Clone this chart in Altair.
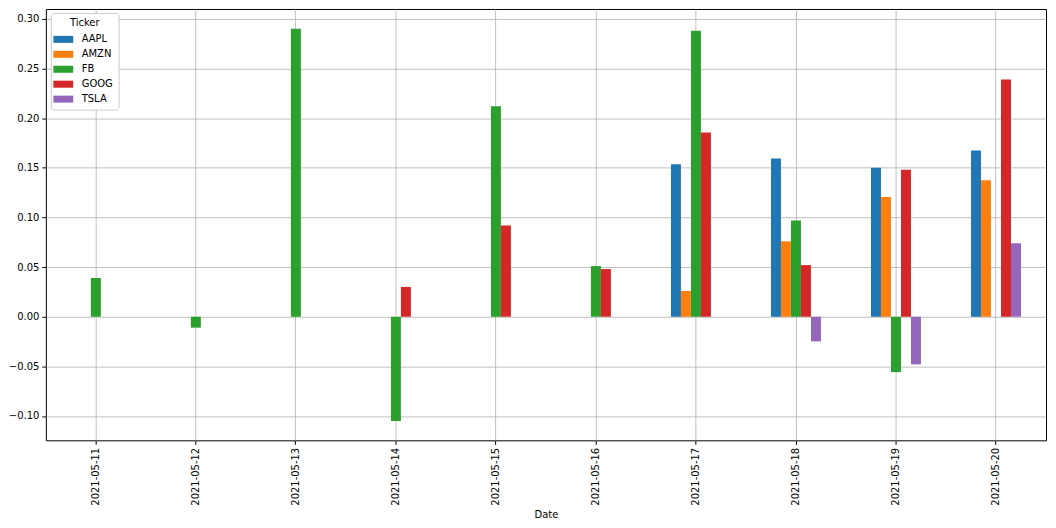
import altair as alt
import pandas as pd

dates = ["2021-05-11", "2021-05-12", "2021-05-13", "2021-05-14", "2021-05-15",
         "2021-05-16", "2021-05-17", "2021-05-18", "2021-05-19", "2021-05-20"]
tickers = ["AAPL", "AMZN", "FB", "GOOG", "TSLA"]
colors = ["#1f77b4", "#ff7f0e", "#2ca02c", "#d62728", "#9467bd"]

aapl = [None, None, None, None, None, None, 0.1535, 0.1595, 0.150, 0.1675]
amzn = [None, None, None, None, None, None, 0.026, 0.076, 0.1205, 0.1375]
fb = [0.039, -0.011, 0.290, -0.105, 0.212, 0.051, 0.288, 0.097, -0.0558, None]
goog = [None, None, None, 0.030, 0.092, 0.048, 0.1855, 0.052, 0.148, 0.239]
tsla = [None, None, None, None, None, None, None, -0.0248, -0.048, 0.074]

series = {"AAPL": aapl, "AMZN": amzn, "FB": fb, "GOOG": goog, "TSLA": tsla}
rows = []
for t in tickers:
    for d, v in zip(dates, series[t]):
        if v is not None:
            rows.append({"Date": d, "Ticker": t, "Value": v})
df = pd.DataFrame(rows)

font = "DejaVu Sans"

chart = alt.Chart(df).mark_bar(size=10).encode(
    x=alt.X("Date:N", sort=dates,
            scale=alt.Scale(domain=dates, paddingInner=0.5, paddingOuter=0.25),
            axis=alt.Axis(title="Date", labelAngle=270, grid=True, bandPosition=0.5,
                          gridColor="#b0b0b0", gridWidth=0.8, tickColor="black",
                          tickSize=4, labelFontSize=10, labelColor="black",
                          titleFontSize=10, titleFontWeight="normal", titleColor="black",
                          domain=False, labelPadding=3, titlePadding=4,
                          labelFont=font, titleFont=font)),
    xOffset=alt.XOffset("Ticker:N", scale=alt.Scale(domain=tickers, paddingInner=0, paddingOuter=0)),
    y=alt.Y("Value:Q",
            scale=alt.Scale(domain=[-0.1245, 0.31], nice=False, zero=False),
            axis=alt.Axis(title=None, values=[-0.10, -0.05, 0.0, 0.05, 0.10, 0.15, 0.20, 0.25, 0.30],
                          format=".2f", grid=True, gridColor="#b0b0b0", gridWidth=0.8,
                          tickColor="black", tickSize=4, labelFontSize=10, labelColor="black",
                          domain=False, labelPadding=3, labelFont=font)),
    color=alt.Color("Ticker:N", scale=alt.Scale(domain=tickers, range=colors),
                    legend=alt.Legend(title="Ticker", orient="none", legendX=5, legendY=4,
                                      symbolType="M-1.33,-0.47L1.33,-0.47L1.33,0.47L-1.33,0.47Z",
                                      symbolSize=225,
                                      symbolStrokeWidth=0,
                                      fillColor="white", strokeColor="#cccccc",
                                      cornerRadius=3, padding=5,
                                      titleFontSize=10, titleFontWeight="normal",
                                      titleColor="black", titleFont=font,
                                      titleAnchor="middle", titlePadding=4,
                                      labelFontSize=10, labelColor="black", labelFont=font,
                                      labelOffset=11, rowPadding=2)),
).properties(
    width=1004, height=433,
    padding={"left": 38, "top": 0, "right": 2, "bottom": 80},
    autosize=alt.AutoSizeParams(type="none"),
    background="white",
).configure_view(
    stroke="black", strokeWidth=1
)

chart.save("out.html", embed_options={"renderer": "svg", "actions": False})
